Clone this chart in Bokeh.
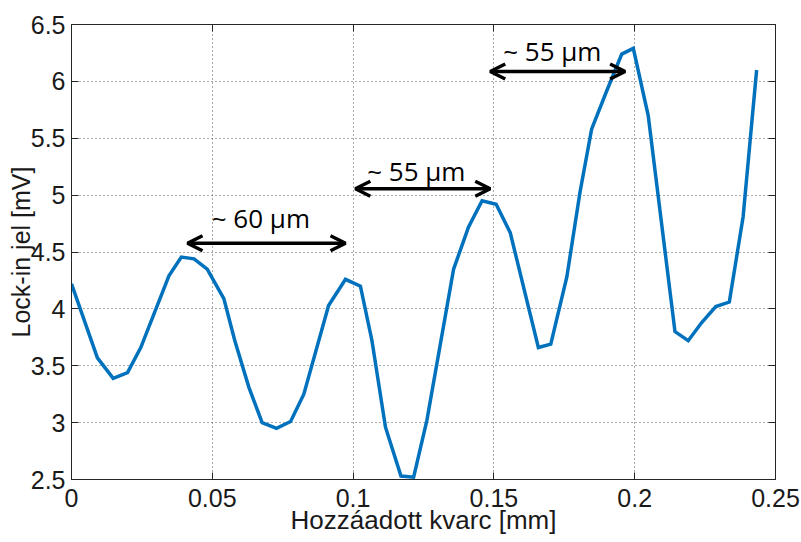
from bokeh.plotting import figure
from bokeh.models import (Range1d, FixedTicker, LinearAxis, Arrow, OpenHead, Label)
from bokeh.embed import file_html
from bokeh.resources import INLINE

# ---- data ----
x_mm = [0.0, 0.0092, 0.0148, 0.0199, 0.0246, 0.0346, 0.0390, 0.0435, 0.0482, 0.0541,
        0.0580, 0.0630, 0.0677, 0.0728, 0.0778, 0.0825, 0.0913, 0.0973, 0.1026, 0.1067,
        0.1115, 0.1170, 0.1215, 0.1262, 0.1357, 0.1410, 0.1458, 0.1508, 0.1558, 0.1658,
        0.1702, 0.1759, 0.1806, 0.1847, 0.1898, 0.1954, 0.1995, 0.2048, 0.2143, 0.2190,
        0.2238, 0.2288, 0.2336, 0.2385, 0.2433]
signal_mV = [4.22, 3.57, 3.39, 3.44, 3.66, 4.29, 4.455, 4.44, 4.35, 4.09,
             3.72, 3.31, 3.00, 2.95, 3.01, 3.25, 4.03, 4.26, 4.20, 3.72,
             2.96, 2.53, 2.52, 3.02, 4.35, 4.72, 4.95, 4.92, 4.67, 3.66,
             3.69, 4.28, 5.03, 5.58, 5.90, 6.24, 6.29, 5.70, 3.80, 3.72,
             3.88, 4.02, 4.06, 4.81, 6.10]

x_ticks = [0, 0.05, 0.1, 0.15, 0.2, 0.25]
x_tick_labels = ["0", "0.05", "0.1", "0.15", "0.2", "0.25"]
y_ticks = [2.5, 3, 3.5, 4, 4.5, 5, 5.5, 6, 6.5]
y_tick_labels = ["2.5", "3", "3.5", "4", "4.5", "5", "5.5", "6", "6.5"]

# annotation arrows (data units) and texts
arrow_x_start = [0.0412, 0.1008, 0.1487]
arrow_x_end = [0.0973, 0.1487, 0.1966]
arrow_y = [4.577, 5.056, 6.087]
note_texts = ["~ 60 μm", "~ 55 μm", "~ 55 μm"]
note_x = [0.0498, 0.1050, 0.1533]
note_y = [4.795, 5.216, 6.271]

x_label = "Hozzáadott kvarc [mm]"
y_label = "Lock-in jel [mV]"

AX = "#262626"
TICK_FONT = "Liberation Sans"

p = figure(width=801, height=542, output_backend="svg", toolbar_location=None,
           x_range=Range1d(0, 0.25), y_range=Range1d(2.5, 6.5),
           min_border_left=71, min_border_right=26, min_border_top=24, min_border_bottom=63,
           background_fill_color="white", border_fill_color="white")
p.outline_line_color = AX
p.outline_line_width = 1

for ax in (p.xaxis[0], p.yaxis[0]):
    ax.major_tick_in = 7
    ax.major_tick_out = 0
    ax.minor_tick_line_color = None
    ax.axis_line_color = AX
    ax.major_tick_line_color = AX
    ax.major_label_text_font = TICK_FONT
    ax.major_label_text_font_size = "25px"
    ax.major_label_text_color = "#1a1a1a"
    ax.axis_label_text_font = TICK_FONT
    ax.axis_label_text_font_style = "normal"
    ax.axis_label_text_color = "#1a1a1a"

p.xaxis[0].ticker = FixedTicker(ticks=x_ticks)
p.xaxis[0].major_label_overrides = {t: l for t, l in zip(x_ticks, x_tick_labels)}
p.xaxis[0].major_label_standoff = 9
p.xaxis[0].axis_label = x_label
p.xaxis[0].axis_label_text_font_size = "26px"
p.xaxis[0].axis_label_standoff = -5

p.yaxis[0].ticker = FixedTicker(ticks=y_ticks)
p.yaxis[0].major_label_overrides = {t: l for t, l in zip(y_ticks, y_tick_labels)}
p.yaxis[0].major_label_standoff = 6
p.yaxis[0].axis_label = y_label
p.yaxis[0].axis_label_text_font_size = "25px"
p.yaxis[0].axis_label_standoff = -7

# top and right box axes with inward ticks, no labels
def box_axis(ticks):
    return LinearAxis(ticker=FixedTicker(ticks=ticks), major_tick_in=7, major_tick_out=0,
                      minor_tick_line_color=None, major_label_text_font_size="1px",
                      major_label_overrides={t: "" for t in ticks},
                      major_label_standoff=0, axis_line_color=AX, major_tick_line_color=AX)

p.add_layout(box_axis(x_ticks), "above")
p.add_layout(box_axis(y_ticks), "right")

p.xgrid.ticker = FixedTicker(ticks=x_ticks)
p.ygrid.ticker = FixedTicker(ticks=y_ticks)
for g in (p.xgrid[0], p.ygrid[0]):
    g.grid_line_color = "#555555"
    g.grid_line_dash = "1 3"
    g.grid_line_width = 1

p.line(x_mm, signal_mV, line_color="#0072BD", line_width=3.5, line_join="miter")

for xs, xe, yy in zip(arrow_x_start, arrow_x_end, arrow_y):
    p.add_layout(Arrow(x_start=xs, y_start=yy, x_end=xe, y_end=yy,
                       line_color="black", line_width=3.5,
                       start=OpenHead(size=15, line_width=3.5, line_color="black"),
                       end=OpenHead(size=15, line_width=3.5, line_color="black")))

for t, xx, yy in zip(note_texts, note_x, note_y):
    p.add_layout(Label(x=xx, y=yy, text=t, text_font="Open Sans", text_font_size="26px",
                       text_color="black", text_align="left", text_baseline="alphabetic"))

open("out.html", "w").write(file_html(p, INLINE))
